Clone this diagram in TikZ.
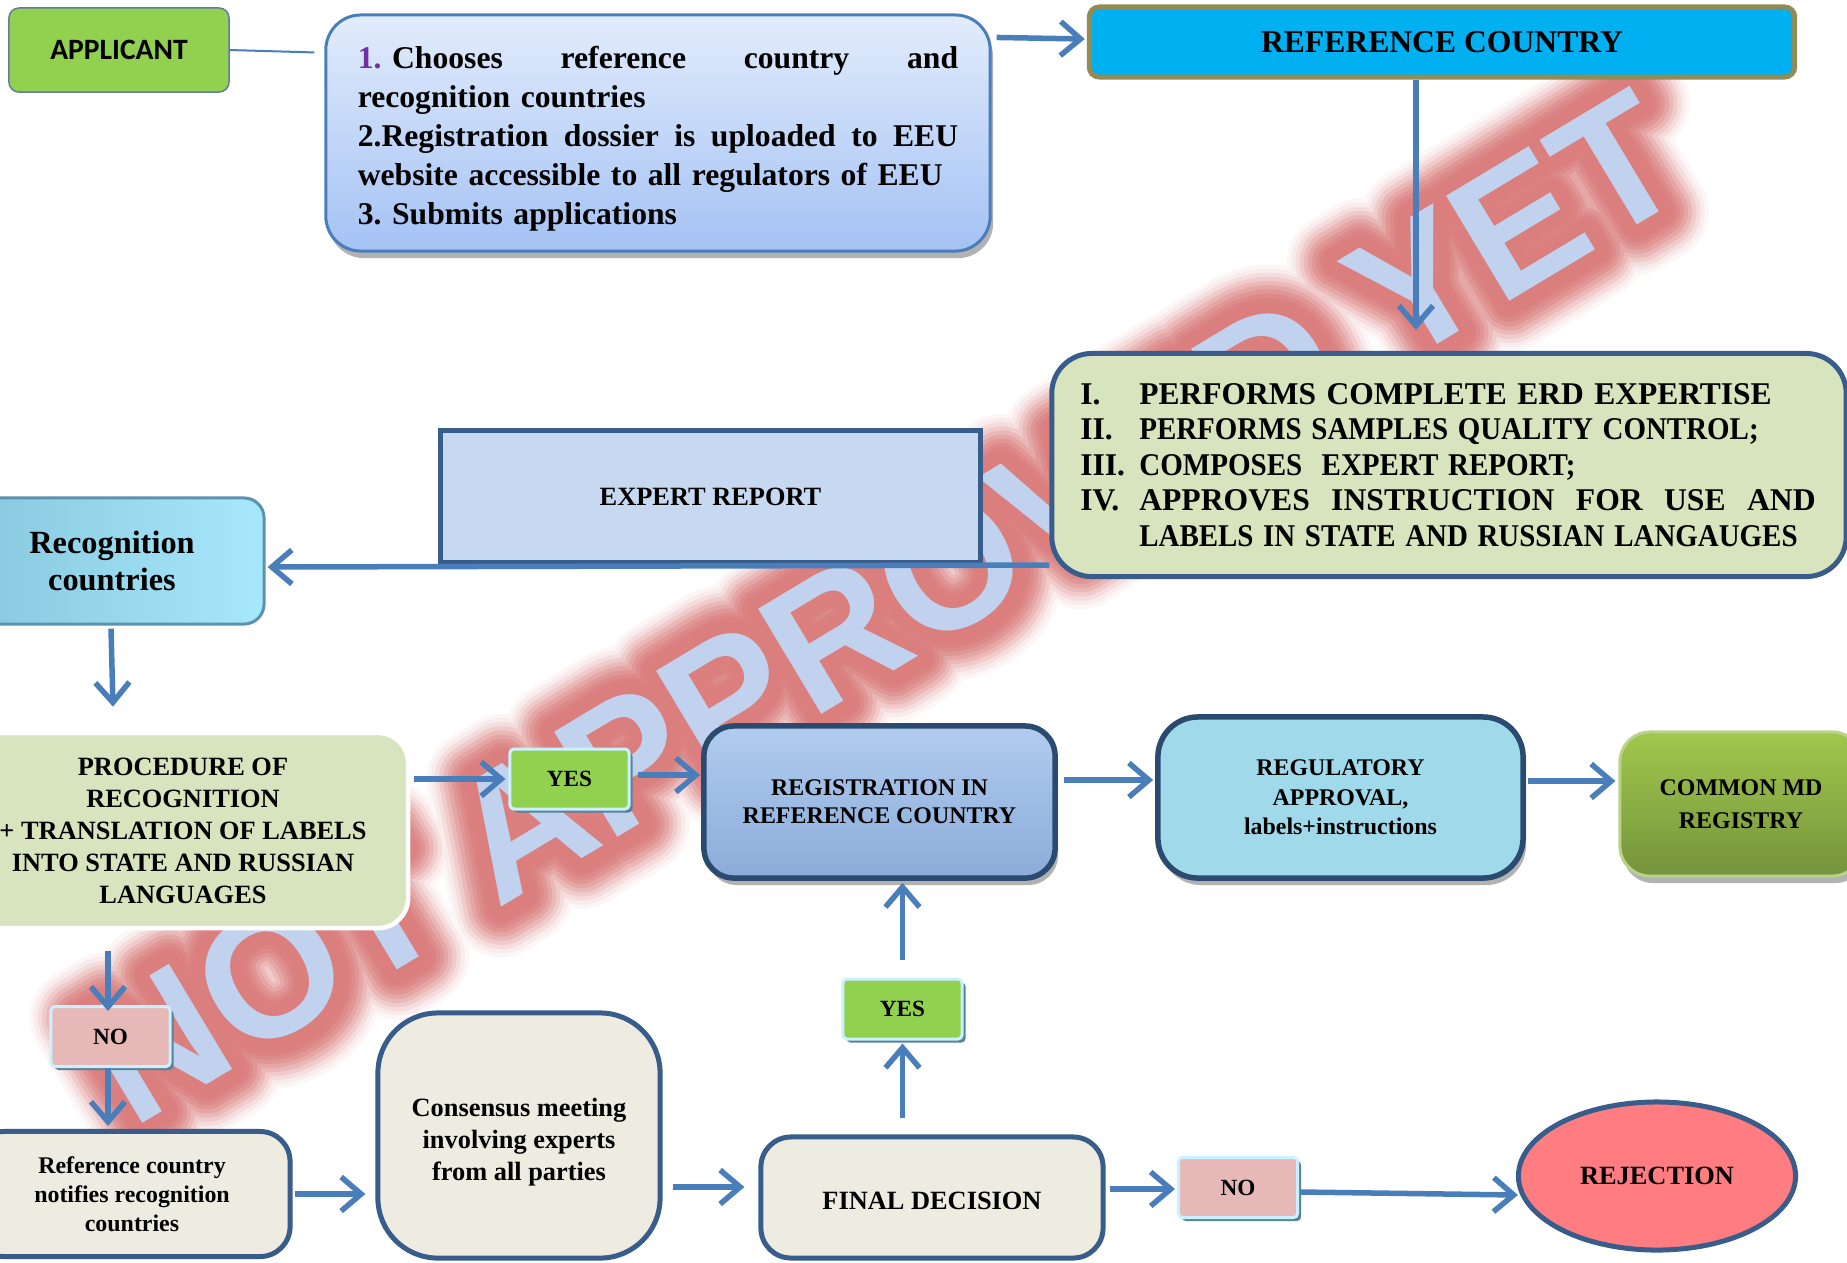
\documentclass[tikz,border=0pt]{standalone}
\usepackage{fontspec}
\usepackage{graphicx}
\setmainfont{Liberation Serif}
\newfontfamily\calibfont{Carlito}
\newfontfamily\wmfont{Liberation Sans}
\newfontfamily\wmA[BoldFeatures={FakeBold=55.7}]{Liberation Sans}
\newfontfamily\wmB[BoldFeatures={FakeBold=51}]{Liberation Sans}
\newfontfamily\wmC[BoldFeatures={FakeBold=46.4}]{Liberation Sans}
\newfontfamily\wmD[BoldFeatures={FakeBold=41.8}]{Liberation Sans}
\newfontfamily\wmE[BoldFeatures={FakeBold=37.1}]{Liberation Sans}
\newfontfamily\wmF[BoldFeatures={FakeBold=32.5}]{Liberation Sans}
\newfontfamily\wmG[BoldFeatures={FakeBold=27.8}]{Liberation Sans}
\newfontfamily\wmH[BoldFeatures={FakeBold=23.2}]{Liberation Sans}
\newfontfamily\wmI[BoldFeatures={FakeBold=18.6}]{Liberation Sans}
\newfontfamily\wmJ[BoldFeatures={FakeBold=13.9}]{Liberation Sans}
\newfontfamily\wmK[BoldFeatures={FakeBold=9.3}]{Liberation Sans}
\newfontfamily\wmL[BoldFeatures={FakeBold=4.6}]{Liberation Sans}
\usetikzlibrary{arrows.meta,shapes.geometric,shadows,calc}
\frenchspacing

\definecolor{arrowblue}{HTML}{4A7EBB}
\definecolor{darkb}{HTML}{385D8A}
\definecolor{navyb}{HTML}{2B4A70}
\definecolor{appgreen}{HTML}{92D050}
\definecolor{olivegreen}{HTML}{D7E4BD}
\definecolor{cyanref}{HTML}{00B0F0}
\definecolor{khaki}{HTML}{948A54}
\definecolor{expfill}{HTML}{C6D9F1}
\definecolor{beige}{HTML}{EEECE1}
\definecolor{pinkno}{HTML}{E6B9B8}
\definecolor{lightcyan}{HTML}{C9F1FF}
\definecolor{shadowteal}{HTML}{5A8296}
\definecolor{rejred}{HTML}{FF7C80}
\definecolor{regufill}{HTML}{A0DAEA}
\definecolor{purpnum}{HTML}{7030A0}
\definecolor{steptop}{HTML}{E2ECFC}
\definecolor{stepbot}{HTML}{A4C2F4}
\definecolor{recl}{HTML}{86C7DD}
\definecolor{recr}{HTML}{A7E8FC}
\definecolor{recb}{HTML}{5B93AE}
\definecolor{regtop}{HTML}{B2CCEE}
\definecolor{regmid}{HTML}{9DBCE4}
\definecolor{regbot}{HTML}{8CABD8}
\definecolor{comtop}{HTML}{A1C74C}
\definecolor{combot}{HTML}{76933C}
\definecolor{comb}{HTML}{B9D38A}
\definecolor{wmblue}{HTML}{C1D2EE}
\definecolor{wmred}{HTML}{DA7E7E}

\newcommand\fsz[2]{\fontsize{#1}{#2}\selectfont\bfseries}
\newcommand\fitline[2]{\resizebox{#1}{\height}{#2}}

\tikzset{
  box/.style={draw, align=center, inner sep=0pt, text=black},
  arr/.style={draw=arrowblue, line width=0.55mm, -{Straight Barb[length=2mm,width=3.4mm]}},
  thinln/.style={draw=arrowblue, line width=0.2mm},
  yesbox/.style={box, fill=appgreen, draw=lightcyan, line width=0.3mm,
    minimum width=11.9mm, minimum height=6mm, rounded corners=0.4mm,
    drop shadow={shadow xshift=0.35mm, shadow yshift=-0.35mm, fill=shadowteal, opacity=1},
    font=\fsz{6.6}{8}},
  nobox/.style={yesbox, fill=pinkno},
  beigebox/.style={box, fill=beige, draw=darkb, line width=0.5mm},
  softshadow/.style={drop shadow={shadow xshift=0.3mm, shadow yshift=-0.7mm, fill=black, opacity=0.3}},
  wmstyle/.style={rotate=31, inner sep=0pt, line join=round}
}

\begin{document}
\begin{tikzpicture}[x=0.01cm, y=-0.01cm]
\useasboundingbox (0,0) rectangle (1847,1262);
\fill[white] (0,0) rectangle (1847,1262);
\clip (0,0) rectangle (1847,1262);

% watermark (soft glow layers, then the letters)
\coordinate (wmc) at (882,607);
\foreach \f/\p [count=\i] in {\wmA/7,\wmB/15,\wmC/26,\wmD/40,\wmE/55,\wmF/69,\wmG/81,\wmH/91,\wmI/98,\wmJ/100,\wmK/100,\wmL/100}{
  \node[wmstyle, text=wmred!\p!white, font=\f\bfseries\fontsize{50.7}{50.7}\selectfont] (wmg\i) at (wmc) {NOT APPROVED YET};
}
\node[wmstyle, text=wmblue, font=\wmfont\bfseries\fontsize{50.7}{50.7}\selectfont] (wm) at (wmc) {NOT APPROVED YET};

% nodes
\node[box, fill=appgreen, draw=darkb!80, line width=0.15mm, rounded corners=1mm,
  minimum width=22mm, minimum height=8.4mm,
  font=\calibfont\bfseries\fontsize{8.4}{10}\selectfont] (applicant) at (119,50) {APPLICANT};

\node[box, draw=arrowblue, line width=0.3mm, rounded corners=3.5mm,
  top color=steptop, bottom color=stepbot, softshadow,
  minimum width=66.4mm, minimum height=23.6mm, text width=60mm, align=left,
  font=\fsz{9}{11.1}] (steps) at (658,133) {%
\rule{0pt}{9.5pt}\makebox[60mm][l]{\textcolor{purpnum}{1.} Chooses\hfill reference\hfill country\hfill and}\\
recognition countries\\
\makebox[60mm][l]{2.Registration\hfill dossier\hfill is\hfill uploaded\hfill to\hfill EEU}\\
website accessible to all regulators of EEU\\
3. Submits applications};

\node[box, fill=cyanref, draw=khaki, line width=0.5mm, rounded corners=1mm,
  minimum width=70.5mm, minimum height=7mm, font=\fsz{9}{11}] (refc) at (1442,42) {REFERENCE COUNTRY};

\node[box, fill=olivegreen, draw=darkb, line width=0.5mm, rounded corners=4mm,
  minimum width=79.4mm, minimum height=22.3mm, text width=73.7mm, align=left,
  font=\fsz{9}{10.1}] (erd) at (1449,465) {%
\makebox[5.9mm][l]{I.}\fitline{63.2mm}{PERFORMS COMPLETE ERD EXPERTISE}\\
\makebox[5.9mm][l]{II.}\fitline{61.9mm}{PERFORMS SAMPLES QUALITY CONTROL;}\\
\makebox[5.9mm][l]{III.}\fitline{43.6mm}{COMPOSES\ \ EXPERT REPORT;}\\
\makebox[5.9mm][l]{IV.}\makebox[67.6mm][l]{APPROVES\hfill INSTRUCTION\hfill FOR\hfill USE\hfill AND}\\
\hspace*{5.9mm}\fitline{65.8mm}{LABELS IN STATE AND RUSSIAN LANGAUGES}};

\node[box, fill=expfill, draw=darkb, line width=0.5mm,
  minimum width=53.9mm, minimum height=13.1mm, font=\fsz{7.5}{9}] (expert) at (710.5,496.5) {EXPERT REPORT};

\node[box, left color=recl, right color=recr, draw=recb, line width=0.3mm, rounded corners=2mm,
  minimum width=30.4mm, minimum height=12.6mm, font=\fsz{9.2}{10.7}] (recog) at (112,561) {Recognition\\countries};

\node[box, fill=olivegreen, draw=white, line width=0.45mm, rounded corners=3mm,
  minimum width=45mm, minimum height=19.5mm, font=\fsz{7.5}{9.1}] (proc) at (183,830.5)
  {PROCEDURE OF\\RECOGNITION\\+ TRANSLATION OF LABELS\\INTO STATE AND RUSSIAN\\LANGUAGES};

\node[yesbox] (yes1) at (569.5,779) {YES};

\node[box, top color=regtop, bottom color=regbot, middle color=regmid, draw=navyb, line width=0.55mm,
  rounded corners=3mm, softshadow, minimum width=35.1mm, minimum height=15.2mm,
  font=\fsz{6.8}{8}] (reg) at (879.5,802) {REGISTRATION IN\\REFERENCE COUNTRY};

\node[box, fill=regufill, draw=navyb, line width=0.55mm, rounded corners=4mm, softshadow,
  minimum width=36.5mm, minimum height=16.1mm, font=\fsz{6.8}{8.4}] (regu) at (1340.5,797.5)
  {REGULATORY\\APPROVAL,\\labels+instructions};

\node[box, top color=comtop, bottom color=combot, draw=comb, line width=0.3mm, rounded corners=3mm,
  softshadow, minimum width=24.2mm, minimum height=14.4mm, font=\fsz{6.8}{9.4}] (common) at (1741,804)
  {COMMON MD\\REGISTRY};

\node[nobox] (no1) at (110.5,1036.5) {NO};

\node[beigebox, rounded corners=3mm, minimum width=31.6mm, minimum height=12.5mm,
  font=\fsz{6.8}{8.25}] (notif) at (132,1194) {Reference country\\notifies recognition\\countries};

\node[beigebox, rounded corners=6mm, minimum width=28.2mm, minimum height=24.5mm,
  font=\fsz{7.5}{9.1}] (cons) at (519,1135.5) {\rule{0pt}{9.1pt}Consensus meeting\\involving experts\\from all parties};

\node[beigebox, rounded corners=3mm, minimum width=34.2mm, minimum height=12.1mm,
  font=\fsz{7.5}{9}] (final) at (932,1197.5) {\rule{0pt}{7pt}FINAL DECISION};

\node[yesbox] (yes2) at (902.5,1009) {YES};
\node[nobox] (no2) at (1238,1187.5) {NO};

\node[ellipse, draw=darkb, fill=rejred, line width=0.5mm, minimum width=27.7mm, minimum height=14.8mm,
  inner sep=0pt, font=\fsz{7.5}{9}] (rej) at (1657,1176) {REJECTION};

% connectors
\draw[thinln] (applicant.east) -- ($(steps.north west)+(-10,39)$);
\draw[arr] ($(steps.north east)+(5,24)$) -- ($(refc.west)+(-2,-3)$);
\draw[arr] ($(refc.south)+(-26,0)$) -- ($(erd.north)+(-33,-21)$);
\draw[arr] ($(erd.south west)+(0,-14)$) -- ($(recog.east)+(2,6)$);
\draw[arr] ($(recog.south)+(-1,3)$) -- ($(proc.north)+(-70,-24)$);
\draw[arr] ($(proc.east|-yes1.west)+(4,0)$) -- ($(yes1.west)+(-3,0)$);
\draw[arr] ($(yes1.east)+(7,-4)$) -- ($(reg.west)+(-1,-27)$);
\draw[arr] ($(reg.east)+(6,-22)$) -- ($(regu.west)+(-2,-17.5)$);
\draw[arr] ($(regu.east)+(2,-16.5)$) -- ($(common.west)+(-3,-23)$);
\draw[arr] ($(proc.south-|no1.north)+(-2.5,21)$) -- ($(no1.north)+(-2.5,6)$);
\draw[arr] ($(no1.south)+(-2.5,0)$) -- ($(notif.north-|no1.south)+(-2.5,-3)$);
\draw[arr] ($(notif.east)+(2,0)$) -- ($(cons.west|-notif.east)+(-10,0)$);
\draw[arr] ($(cons.east)+(10,51.5)$) -- ($(final.west)+(-14,-10.5)$);
\draw[arr] ($(final.north-|yes2.south)+(0,-16)$) -- ($(yes2.south)+(0,3)$);
\draw[arr] ($(yes2.north)+(0,-18)$) -- ($(reg.south-|yes2.north)+(0,2)$);
\draw[arr] ($(final.east|-no2.west)+(4,1.5)$) -- ($(no2.west)+(-2,1.5)$);
\draw[arr] ($(no2.east)+(1,4.5)$) -- ($(rej.west)+(2,19)$);
\end{tikzpicture}
\end{document}
